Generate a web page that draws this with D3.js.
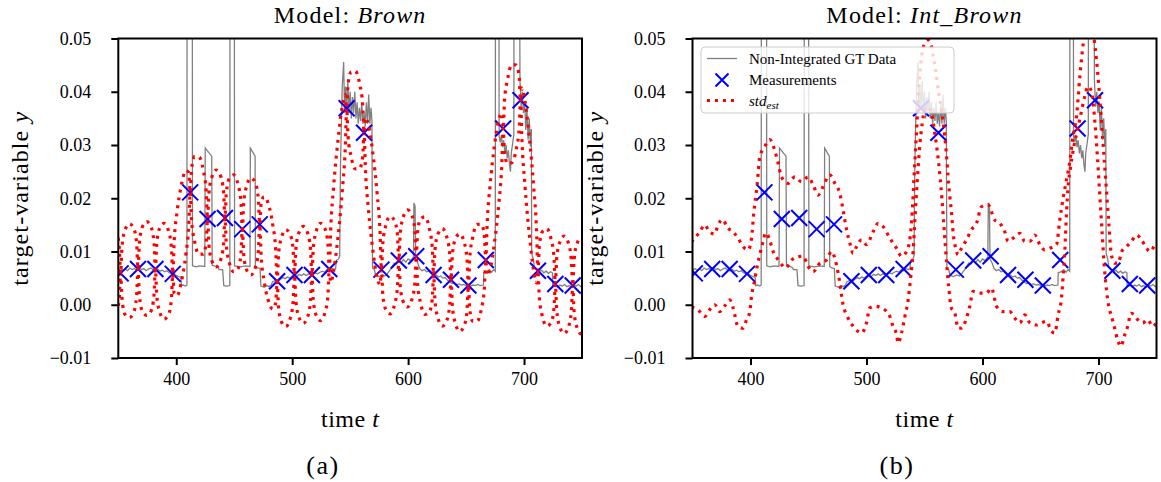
<!DOCTYPE html>
<html>
<head>
<meta charset="utf-8">
<script src="https://cdn.jsdelivr.net/npm/d3@7"></script>
<style>
  html, body { margin: 0; padding: 0; background: #fff; }
  svg text { font-family: "Liberation Serif", "DejaVu Serif", serif; fill: #000; }
</style>
</head>
<body>
<svg id="fig" width="1161" height="482"></svg>
<script>
// ---- axis ticks ----
const xTicks = [400, 500, 600, 700];
const yTicks = [-0.01, 0, 0.01, 0.02, 0.03, 0.04, 0.05];
const yTickLabels = ["\u22120.01", "0.00", "0.01", "0.02", "0.03", "0.04", "0.05"];

// ---- integrated measurements (every 15 steps) ----
const measT = [352, 367, 382, 397, 412, 427, 442, 457, 472, 487, 502, 517, 532, 547, 562,
               577, 592, 607, 622, 637, 652, 667, 682, 697, 712, 727, 742];
const measY = [0.0059, 0.0067, 0.0067, 0.0058, 0.0211, 0.0161, 0.0163, 0.0142, 0.0151, 0.0044,
               0.0056, 0.0056, 0.0067, 0.0369, 0.0323, 0.0066, 0.0083, 0.0091, 0.0056, 0.0047,
               0.0036, 0.0084, 0.0331, 0.0384, 0.0064, 0.0039, 0.0036];

// ---- non-integrated ground truth [t, y] ----
const gtData = [
  [348,0.0066],[350,0.0064],[352,0.0068],[354,0.0065],[356,0.0067],[358,0.0064],[360,0.0069],
  [362,0.0066],[364,0.0068],[366,0.0065],[368,0.0070],[370,0.0066],[372,0.0068],[374,0.0064],
  [376,0.0067],[378,0.0069],[380,0.0066],[382,0.0064],[384,0.0067],[386,0.0063],[388,0.0065],
  [390,0.0062],[392,0.0064],[394,0.0060],[396,0.0058],[398,0.0059],[400,0.0055],[402,0.0053],
  [404,0.0052],[404.4,0.0036],[406,0.0037],[408,0.0035],[409.2,0.0037],[409.4,0.09],[413.8,0.09],
  [414,0.0073],[417,0.0071],[420,0.0073],[424.6,0.0072],[425,0.0294],[430.6,0.0279],[431,0.0074],
  [434,0.0072],[436,0.0070],[437,0.0066],[440,0.0066],[441,0.0036],[444,0.0035],[446.2,0.0036],
  [446.4,0.09],[450,0.09],[450.3,0.0073],[455,0.0071],[460,0.0073],[463.6,0.0072],[463.9,0.0294],
  [468,0.0279],[468.3,0.0072],[470,0.0069],[472.3,0.0068],[473,0.0035],[476,0.0033],[478,0.0036],
  [480,0.0034],[482,0.0037],[483,0.0043],[486,0.0046],[488,0.0043],[490,0.0048],[492,0.0051],
  [494,0.0049],[496,0.0052],[498,0.0050],[500,0.0054],[502,0.0056],[504,0.0053],[506,0.0057],
  [508,0.0055],[510,0.0058],[512,0.0055],[514,0.0058],[516,0.0056],[518,0.0057],[520,0.0060],
  [522,0.0058],[524,0.0061],[526,0.0063],[528,0.0061],[530,0.0066],[532,0.0064],[534,0.0068],
  [536,0.0066],[537.5,0.0068],[538,0.0083],[540,0.0086],[541,0.0092],[541.6,0.025],[542.3,0.033],
  [543.2,0.041],[544.4,0.0456],[545.2,0.036],[546,0.041],[547,0.037],[548,0.042],[549,0.036],
  [550,0.040],[551,0.035],[552,0.039],[553,0.036],[554,0.040],[555,0.035],[556,0.038],[557,0.034],
  [558,0.037],[559,0.0345],[560,0.038],[561,0.034],[562,0.036],[563,0.0335],[564,0.038],[565,0.034],
  [566,0.0395],[567,0.034],[568,0.037],[568.8,0.0345],[569.3,0.0069],[571,0.0065],[572,0.0055],
  [575,0.0053],[578,0.0056],[580,0.0054],[582,0.0058],[584,0.0064],[586,0.0070],[588,0.0078],
  [590,0.0076],[592,0.0082],[594,0.0079],[596,0.0085],[598,0.0080],[600,0.0086],[602,0.0083],
  [604,0.0088],[604.6,0.0085],[605,0.0191],[606,0.0185],[606.5,0.0086],[608,0.0080],[610,0.0068],
  [612,0.0064],[614,0.0066],[616,0.0062],[618,0.0063],[620,0.0058],[622,0.0054],[624,0.0056],
  [626,0.0052],[628,0.0054],[630,0.0050],[632,0.0051],[634,0.0046],[636,0.0043],[638,0.0040],
  [640,0.0041],[642,0.0038],[644,0.0039],[646,0.0037],[648,0.0038],[650,0.0036],[652,0.0038],
  [654,0.0035],[656,0.0037],[658,0.0036],[660,0.0038],[662,0.0036],[665,0.0037],[665.3,0.0060],
  [668,0.0062],[670,0.0066],[672,0.0061],[674,0.0066],[675.2,0.0063],[675.4,0.09],[678.2,0.09],
  [678.5,0.0316],[679.5,0.0305],[680.5,0.0318],[681.5,0.0296],[682.5,0.0309],[683.5,0.0284],
  [684.5,0.0300],[685.5,0.0275],[686.5,0.0290],[687.5,0.0262],[688.3,0.0250],[689,0.0285],
  [690,0.0300],[691.2,0.0320],[691.5,0.09],[695.7,0.09],[696.5,0.0420],[697.5,0.0372],
  [698.5,0.0400],[699.5,0.0360],[700.5,0.0382],[701.5,0.0328],[702.5,0.0370],[703.5,0.0310],
  [704.5,0.0350],[705.5,0.0297],[706.3,0.0330],[706.6,0.0097],[708,0.0085],[709,0.0070],
  [711,0.0066],[713,0.0062],[715,0.0065],[717,0.0060],[719,0.0063],[721,0.0059],[723,0.0062],
  [724.5,0.0060],[724.7,0.0034],[727,0.0036],[729,0.0033],[731,0.0037],[733,0.0035],[735,0.0038],
  [737,0.0034],[739,0.0036],[741,0.0033],[743,0.0037],[745,0.0035],[747,0.0038],[749,0.0034],
  [751,0.0036],[753,0.0035]
];

// ---- Brown model: std_est envelope [t, upper, lower] ----
const brownBand = [
  [345,0.0153,-0.0029],[348.25,0.0140,-0.0018],[350.8,0.0109,0.0011],
  [352,0.0059,0.0059],[353.2,0.0109,0.0011],[355.75,0.0140,-0.0018],[359.5,0.0152,-0.0024],[363.25,0.0144,-0.0014],[365.8,0.0115,0.0017],
  [367,0.0067,0.0067],[368.2,0.0116,0.0018],[370.75,0.0146,-0.0012],[374.5,0.0156,-0.0020],[378.25,0.0146,-0.0012],[380.8,0.0116,0.0018],
  [382,0.0067,0.0067],[383.2,0.0115,0.0017],[385.75,0.0144,-0.0014],[389.5,0.0153,-0.0027],[393.25,0.0139,-0.0019],[395.8,0.0108,0.0010],
  [397,0.0058,0.0058],[398.2,0.0119,0.0021],[400.75,0.0175,0.0017],[404.5,0.0226,0.0044],[408.25,0.0252,0.0094],[410.8,0.0248,0.0150],
  [412,0.0211,0.0211],[413.2,0.0256,0.0158],[415.75,0.0278,0.0120],[419.5,0.0278,0.0095],[423.25,0.0253,0.0095],[425.8,0.0214,0.0116],
  [427,0.0161,0.0161],[428.2,0.0210,0.0112],[430.75,0.0240,0.0082],[434.5,0.0253,0.0071],[438.25,0.0242,0.0084],[440.8,0.0212,0.0114],
  [442,0.0163,0.0163],[443.2,0.0210,0.0112],[445.75,0.0237,0.0079],[449.5,0.0244,0.0062],[453.25,0.0226,0.0068],[455.8,0.0193,0.0095],
  [457,0.0142,0.0142],[458.2,0.0192,0.0094],[460.75,0.0223,0.0065],[464.5,0.0238,0.0056],[468.25,0.0228,0.0070],[470.8,0.0199,0.0101],
  [472,0.0151,0.0151],[473.2,0.0191,0.0093],[475.75,0.0203,0.0045],[479.5,0.0189,0.0007],[483.25,0.0150,-0.0008],[485.8,0.0102,0.0004],
  [487,0.0044,0.0044],[488.2,0.0094,-0.0004],[490.75,0.0126,-0.0032],[494.5,0.0141,-0.0041],[498.25,0.0132,-0.0026],[500.8,0.0104,0.0006],
  [502,0.0056,0.0056],[503.2,0.0105,0.0007],[505.75,0.0135,-0.0023],[509.5,0.0147,-0.0035],[513.25,0.0135,-0.0023],[515.8,0.0105,0.0007],
  [517,0.0056,0.0056],[518.2,0.0106,0.0008],[520.75,0.0138,-0.0020],[524.5,0.0153,-0.0030],[528.25,0.0143,-0.0015],[530.8,0.0115,0.0017],
  [532,0.0067,0.0067],[533.2,0.0140,0.0042],[535.75,0.0222,0.0064],[539.5,0.0309,0.0127],[543.25,0.0373,0.0215],[545.8,0.0394,0.0296],
  [547,0.0369,0.0369],[548.2,0.0414,0.0316],[550.75,0.0437,0.0279],[554.5,0.0439,0.0255],[558.25,0.0414,0.0256],[560.8,0.0376,0.0278],
  [562,0.0323,0.0323],[563.2,0.0351,0.0254],[565.75,0.0338,0.0180],[569.5,0.0286,0.0104],[573.25,0.0209,0.0051],[575.8,0.0136,0.0038],
  [577,0.0066,0.0066],[578.2,0.0116,0.0018],[580.75,0.0149,-0.0009],[584.5,0.0166,-0.0017],[588.25,0.0158,0.0000],[590.8,0.0131,0.0033],
  [592,0.0083,0.0083],[593.2,0.0133,0.0035],[595.75,0.0164,0.0006],[599.5,0.0178,-0.0004],[603.25,0.0168,0.0010],[605.8,0.0139,0.0041],
  [607,0.0091,0.0091],[608.2,0.0137,0.0039],[610.75,0.0161,0.0003],[614.5,0.0165,-0.0018],[618.25,0.0144,-0.0014],[620.8,0.0108,0.0010],
  [622,0.0056,0.0056],[623.2,0.0104,0.0006],[625.75,0.0133,-0.0025],[629.5,0.0143,-0.0040],[633.25,0.0128,-0.0030],[635.8,0.0097,-0.0001],
  [637,0.0047,0.0047],[638.2,0.0095,-0.0003],[640.75,0.0123,-0.0035],[644.5,0.0133,-0.0050],[648.25,0.0118,-0.0040],[650.8,0.0086,-0.0012],
  [652,0.0036,0.0036],[653.2,0.0089,-0.0009],[655.75,0.0127,-0.0031],[659.5,0.0151,-0.0031],[663.25,0.0151,-0.0007],[665.8,0.0129,0.0031],
  [667,0.0084,0.0084],[668.2,0.0153,0.0055],[670.75,0.0225,0.0067],[674.5,0.0299,0.0117],[678.25,0.0348,0.0190],[680.8,0.0360,0.0262],
  [682,0.0331,0.0331],[683.2,0.0384,0.0286],[685.75,0.0423,0.0265],[689.5,0.0451,0.0267],[693.25,0.0450,0.0292],[695.8,0.0429,0.0331],
  [697,0.0384,0.0384],[698.2,0.0407,0.0309],[700.75,0.0383,0.0225],[704.5,0.0315,0.0133],[708.25,0.0223,0.0065],[710.8,0.0139,0.0041],
  [712,0.0064,0.0064],[713.2,0.0111,0.0013],[715.75,0.0137,-0.0021],[719.5,0.0143,-0.0040],[723.25,0.0124,-0.0034],[725.8,0.0090,-0.0008],
  [727,0.0039,0.0039],[728.2,0.0088,-0.0010],[730.75,0.0117,-0.0041],[734.5,0.0129,-0.0054],[738.25,0.0116,-0.0042],[740.8,0.0085,-0.0013],
  [742,0.0036,0.0036],[743.2,0.0085,-0.0013],[745.75,0.0115,-0.0043],[749.5,0.0127,-0.0055],[753.25,0.0115,-0.0043]
];

// ---- Int_Brown model: std_est envelope, upper and lower [t, y] ----
const intUpper = [
  [349,0.0118],[352,0.0125],[356.3,0.0137],[360.6,0.0150],[364.9,0.0136],[369.2,0.0133],[372,0.0150],
  [376.4,0.0160],[379.3,0.0147],[385,0.0137],[389.3,0.0125],[393.6,0.0109],[398,0.0103],[400.9,0.0125],
  [402.8,0.0172],[405.7,0.0225],[408,0.0278],[412.3,0.0297],[416.6,0.0310],[420.9,0.0290],[423.8,0.0266],
  [426.7,0.0240],[432.4,0.0228],[438.2,0.0240],[444,0.0231],[449.7,0.0240],[454,0.0225],[458.3,0.0206],
  [462.6,0.0222],[468.4,0.0244],[472.7,0.0228],[477,0.0209],[479.8,0.0178],[482.8,0.0141],[485.6,0.0116],
  [488.4,0.0097],[491.4,0.0109],[495.7,0.0122],[500,0.0113],[505.7,0.0137],[510,0.0153],[514.3,0.0147],
  [520.1,0.0125],[525.9,0.0106],[530.2,0.0091],[534.5,0.0100],[537.3,0.0122],[539,0.0160],[541,0.0240],
  [543,0.0320],[545,0.0400],[547.4,0.0466],[550.3,0.0491],[553,0.0497],[556,0.0485],[558,0.0460],
  [560,0.0435],[562,0.0400],[564.6,0.0366],[567.5,0.0316],[569,0.0280],[570.3,0.0241],[571.7,0.0206],
  [573.3,0.0172],[574.7,0.0135],[577,0.0105],[579,0.0094],[581.9,0.0106],[586.2,0.0122],[590.5,0.0141],
  [594.8,0.0153],[599.1,0.0184],[604.8,0.0188],[610.6,0.0159],[614.9,0.0153],[619.2,0.0137],[622.1,0.0119],
  [626.4,0.0125],[632.2,0.0134],[636.5,0.0119],[640.8,0.0119],[645.1,0.0131],[649.4,0.0113],[653.7,0.0103],
  [658,0.0106],[663.8,0.0113],[666.6,0.0159],[669.5,0.0200],[672,0.0230],[675,0.0265],[678,0.0316],
  [681,0.0353],[683.9,0.0428],[686.7,0.0488],[690,0.0525],[694,0.0520],[698.3,0.0459],[701,0.0390],
  [703,0.0330],[705,0.0270],[707,0.0210],[709,0.0150],[711,0.0095],[714,0.0078],[717,0.0078],
  [720,0.0100],[724,0.0109],[728.4,0.0119],[732.8,0.0131],[737.1,0.0122],[741.4,0.0106],[744.9,0.0100],
  [748.6,0.0113],[752,0.0118]
];
const intLower = [
  [349,-0.0005],[352,-0.0006],[356.3,-0.0013],[360.6,-0.0022],[364.9,-0.0009],[369.2,0.0000],[373.5,-0.0013],
  [377.8,-0.0002],[382.2,0.0009],[385,-0.0006],[389.3,-0.0041],[393.6,-0.0044],[396.6,-0.0028],[399.4,-0.0013],
  [400.9,0.0016],[403.7,0.0047],[405.7,0.0072],[408,0.0094],[410.9,0.0119],[413,0.0135],[416,0.0125],
  [419.5,0.0100],[424,0.0084],[427,0.0075],[430,0.0069],[433,0.0075],[436,0.0085],[440,0.0090],
  [445.3,0.0091],[449.7,0.0072],[454,0.0062],[459.7,0.0078],[465.5,0.0084],[469.8,0.0100],[473,0.0085],
  [475.5,0.0060],[477,0.0041],[478.4,0.0019],[479.8,0.0000],[482.8,-0.0019],[485.6,-0.0031],[489.9,-0.0044],
  [495.7,-0.0053],[500,-0.0034],[502.8,-0.0006],[507.2,-0.0003],[512.9,-0.0006],[517,-0.0012],[520.1,-0.0022],
  [522.9,-0.0041],[525.9,-0.0056],[527.2,-0.0072],[530.2,-0.0053],[533.1,-0.0022],[535.9,0.0009],[538,0.0050],
  [540.2,0.0100],[542,0.0170],[544,0.0240],[546,0.0300],[548,0.0340],[550,0.0365],[553,0.0372],
  [556,0.0360],[559,0.0320],[562,0.0270],[565,0.0200],[567,0.0140],[569,0.0080],[571,0.0030],
  [573,-0.0005],[576.2,-0.0016],[579,-0.0044],[581.9,-0.0044],[586.2,-0.0025],[589,-0.0003],[591.9,0.0025],
  [597.7,0.0022],[603.4,0.0022],[607.8,0.0031],[612.1,-0.0003],[617.8,-0.0013],[623.5,-0.0013],[627.8,-0.0025],
  [632.2,-0.0034],[636.5,-0.0019],[640.8,-0.0034],[646.6,-0.0038],[650.9,-0.0034],[655.2,-0.0031],[659.5,-0.0050],
  [662.3,-0.0053],[665.2,-0.0019],[668.1,0.0013],[669.5,0.0053],[671,0.0103],[672.4,0.0172],[673.8,0.0222],
  [676,0.0260],[679,0.0300],[682,0.0330],[685,0.0360],[688,0.0390],[691,0.0410],[694,0.0400],
  [697,0.0340],[699,0.0280],[701,0.0210],[703,0.0140],[705,0.0072],[707,0.0025],[709,-0.0005],
  [711,-0.0020],[713.6,-0.0041],[716.5,-0.0066],[719.4,-0.0078],[722.2,-0.0059],[725.1,-0.0041],[728,-0.0016],
  [730.9,-0.0019],[733.8,-0.0028],[738.1,-0.0034],[742.4,-0.0028],[746.8,-0.0041],[751,-0.0028]
];

// ---- layout ----
const svg = d3.select("#fig");
const plotTop = 38.5, plotBottom = 358;
const panels = [
  { id: "a", left: 118.3, right: 582, model: "Brown", caption: "(a)", captionX: 323,
    upper: brownBand.map(d => [d[0], d[1]]), lower: brownBand.map(d => [d[0], d[2]]), legend: false },
  { id: "b", left: 692.5, right: 1156.5, model: "Int_Brown", caption: "(b)", captionX: 897,
    upper: intUpper, lower: intLower, legend: true }
];

const GRAY = "#808080", BLUE = "#0000ff", RED = "#ff0000";
const DOTS = "3,5";

function xMark(sel, size, width) {
  sel.append("path")
    .attr("d", `M${-size},${-size}L${size},${size}M${-size},${size}L${size},${-size}`)
    .attr("stroke", BLUE).attr("stroke-width", width).attr("fill", "none");
}

panels.forEach(p => {
  const x = d3.scaleLinear().domain([350, 750]).range([p.left, p.right]);
  const y = d3.scaleLinear().domain([-0.01, 0.05]).range([plotBottom, plotTop]);
  const g = svg.append("g");

  const clipId = "clip-" + p.id;
  svg.append("clipPath").attr("id", clipId).append("rect")
    .attr("x", p.left).attr("y", plotTop)
    .attr("width", p.right - p.left).attr("height", plotBottom - plotTop);

  const data = g.append("g").attr("clip-path", `url(#${clipId})`);

  // ground truth
  const line = d3.line().x(d => x(d[0])).y(d => y(d[1]));
  data.append("path").datum(gtData).attr("d", line)
    .attr("fill", "none").attr("stroke", GRAY).attr("stroke-width", 1.3);

  // measurements
  data.selectAll("g.meas").data(measT.map((t, i) => [t, measY[i]])).join("g")
    .attr("class", "meas")
    .attr("transform", d => `translate(${x(d[0])},${y(d[1])})`)
    .call(xMark, 8, 2);

  // std envelope
  const smooth = d3.line().x(d => x(d[0])).y(d => y(d[1])).curve(d3.curveMonotoneX);
  [p.upper, p.lower].forEach(arr => {
    data.append("path").datum(arr).attr("d", smooth)
      .attr("fill", "none").attr("stroke", RED).attr("stroke-width", 3.2)
      .attr("stroke-dasharray", DOTS).attr("stroke-linecap", "butt");
  });

  // frame
  g.append("rect").attr("x", p.left).attr("y", plotTop)
    .attr("width", p.right - p.left).attr("height", plotBottom - plotTop)
    .attr("fill", "none").attr("stroke", "#000").attr("stroke-width", 2);

  // x axis
  const xa = g.append("g").attr("transform", `translate(0,${plotBottom})`)
    .call(d3.axisBottom(x).tickValues(xTicks).tickSize(7).tickPadding(7).tickFormat(d3.format("d")));
  xa.select(".domain").remove();
  xa.selectAll("line").attr("stroke", "#000").attr("stroke-width", 2);
  xa.selectAll("text").attr("font-size", 18).attr("font-family", "Liberation Serif");

  // y axis
  const ya = g.append("g").attr("transform", `translate(${p.left},0)`)
    .call(d3.axisLeft(y).tickValues(yTicks).tickSize(7).tickPadding(20)
      .tickFormat((d, i) => yTickLabels[i]));
  ya.select(".domain").remove();
  ya.selectAll("line").attr("stroke", "#000").attr("stroke-width", 2);
  ya.selectAll("text").attr("font-size", 18).attr("font-family", "Liberation Serif");

  const cx = (p.left + p.right) / 2;

  // title
  const title = g.append("text").attr("x", cx).attr("y", 23)
    .attr("text-anchor", "middle").attr("font-size", 24).attr("letter-spacing", 1.2);
  title.append("tspan").text("Model: ");
  title.append("tspan").attr("font-style", "italic").text(p.model);

  // x label
  const xl = g.append("text").attr("x", cx).attr("y", 427)
    .attr("text-anchor", "middle").attr("font-size", 24).attr("letter-spacing", 0.5);
  xl.append("tspan").text("time ");
  xl.append("tspan").attr("font-style", "italic").text("t");

  // y label
  const yl = g.append("text")
    .attr("transform", `translate(${p.left - 90},${(plotTop + plotBottom) / 2}) rotate(-90)`)
    .attr("text-anchor", "middle").attr("font-size", 24).attr("letter-spacing", 1.1);
  yl.append("tspan").text("target-variable ");
  yl.append("tspan").attr("font-style", "italic").text("y");

  // caption
  g.append("text").attr("x", p.captionX).attr("y", 474)
    .attr("text-anchor", "middle").attr("font-size", 26).attr("letter-spacing", 1.5).text(p.caption);

  if (p.legend) {
    const lg = g.append("g").attr("transform", `translate(${p.left + 8.5},47)`);
    lg.append("rect").attr("width", 253).attr("height", 66).attr("rx", 4)
      .attr("fill", "#fff").attr("fill-opacity", 0.8)
      .attr("stroke", "#cccccc").attr("stroke-width", 1);
    const rows = [11.5, 33, 53.5];
    lg.append("line").attr("x1", 6).attr("x2", 36).attr("y1", rows[0]).attr("y2", rows[0])
      .attr("stroke", GRAY).attr("stroke-width", 1.3);
    lg.append("g").attr("transform", `translate(21,${rows[1]})`).call(xMark, 6.5, 2);
    lg.append("line").attr("x1", 6).attr("x2", 38).attr("y1", rows[2]).attr("y2", rows[2])
      .attr("stroke", RED).attr("stroke-width", 3.2).attr("stroke-dasharray", DOTS);
    const labels = ["Non-Integrated GT Data", "Measurements"];
    labels.forEach((s, i) => lg.append("text").attr("x", 48).attr("y", rows[i] + 5)
      .attr("font-size", 15).text(s));
    const st = lg.append("text").attr("x", 48).attr("y", rows[2] + 5).attr("font-size", 15)
      .attr("font-style", "italic");
    st.append("tspan").text("std");
    st.append("tspan").attr("font-size", 11).attr("dy", 3).text("est");
  }
});
</script>
</body>
</html>
